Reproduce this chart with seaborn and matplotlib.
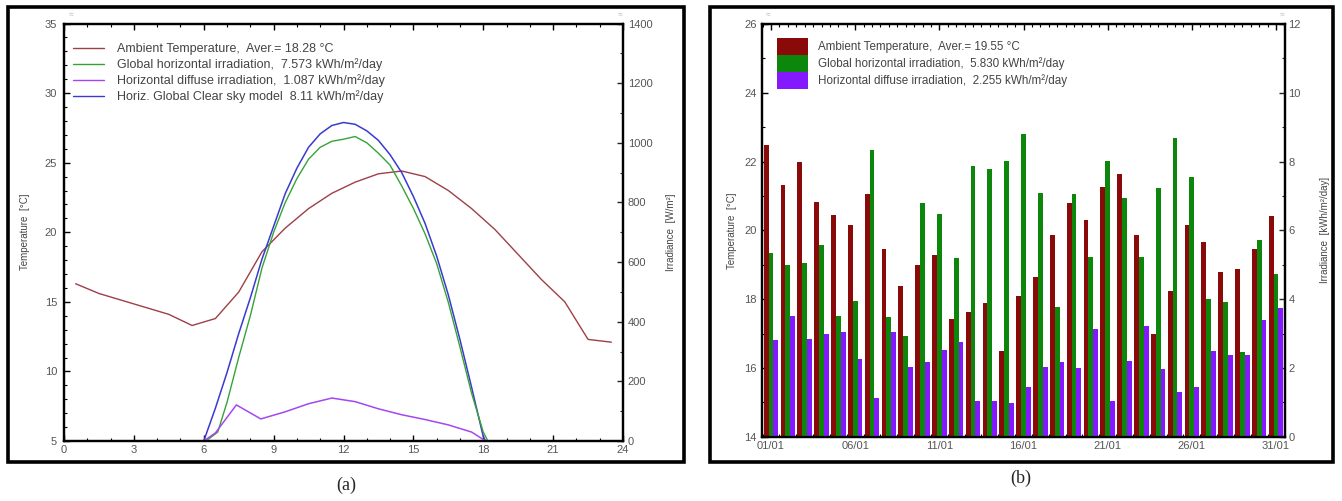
import numpy as np
import pandas as pd
import matplotlib
matplotlib.use("Agg")
import matplotlib.pyplot as plt
import seaborn as sns
from matplotlib.lines import Line2D
from matplotlib.patches import Patch, Rectangle
from matplotlib.ticker import MultipleLocator

# ---------------- data : panel (a) hourly profile ----------------
temp_hours = [0.5, 1.5, 2.5, 3.5, 4.5, 5.5, 6.5, 7.5, 8.5, 9.5, 10.5, 11.5,
              12.5, 13.5, 14.5, 15.5, 16.5, 17.5, 18.5, 19.5, 20.5, 21.5, 22.5, 23.5]
temp_values = [16.3, 15.6, 15.1, 14.6, 14.1, 13.3, 13.8, 15.7, 18.6, 20.3, 21.7, 22.8,
               23.6, 24.2, 24.4, 24.0, 23.0, 21.7, 20.2, 18.4, 16.6, 15.0, 12.3, 12.1]

clear_hours = [0, 6.0, 6.5, 7.0, 7.5, 8.0, 8.5, 9.0, 9.5, 10.0, 10.5, 11.0, 11.5, 12.0,
               12.5, 13.0, 13.5, 14.0, 14.5, 15.0, 15.5, 16.0, 16.5, 17.0, 17.5, 18.0, 18.1, 24]
clear_values = [0, 0, 110, 230, 360, 480, 610, 720, 830, 915, 985, 1030, 1058, 1068,
                1062, 1040, 1008, 960, 900, 820, 730, 620, 490, 340, 180, 15, 0, 0]

global_hours = [0, 6.1, 6.6, 7.0, 7.5, 8.0, 8.5, 9.0, 9.5, 10.0, 10.5, 11.0, 11.5, 12.0,
                12.5, 13.0, 13.5, 14.0, 14.5, 15.0, 15.5, 16.0, 16.5, 17.0, 17.5, 18.0, 18.2, 24]
global_values = [0, 0, 30, 130, 280, 420, 580, 700, 800, 880, 945, 985, 1005, 1012,
                 1021, 1000, 965, 925, 855, 780, 695, 595, 465, 315, 160, 30, 0, 0]

diffuse_hours = [0, 6.0, 6.5, 7.4, 8.45, 9.5, 10.5, 11.5, 12.5, 13.5, 14.5, 15.5, 16.5, 17.5, 18.1, 24]
diffuse_values = [0, 0, 27, 121, 74, 98, 125, 144, 132, 108, 88, 72, 54, 30, 0, 0]

labels_a = ["Ambient Temperature,  Aver.= 18.28 °C",
            "Global horizontal irradiation,  7.573 kWh/m²/day",
            "Horizontal diffuse irradiation,  1.087 kWh/m²/day",
            "Horiz. Global Clear sky model  8.11 kWh/m²/day"]
xticks_a = [0, 3, 6, 9, 12, 15, 18, 21, 24]

# ---------------- data : panel (b) daily values ----------------
day_labels = ["01/01", "02/01", "03/01", "04/01", "05/01", "06/01", "07/01", "08/01",
              "09/01", "10/01", "11/01", "12/01", "13/01", "14/01", "15/01", "16/01",
              "17/01", "18/01", "19/01", "20/01", "21/01", "22/01", "23/01", "24/01",
              "25/01", "26/01", "27/01", "28/01", "29/01", "30/01", "31/01"]
temp_daily = [22.49, 21.32, 22.00, 20.83, 20.46, 20.17, 21.05, 19.46, 18.38, 18.99, 19.29,
              17.43, 17.64, 17.90, 16.50, 18.09, 18.63, 19.87, 20.80, 20.31, 21.26, 21.64,
              19.87, 16.99, 18.24, 20.15, 19.66, 18.78, 18.87, 19.46, 20.41]
global_daily = [5.34, 4.99, 5.04, 5.58, 3.50, 3.96, 8.35, 3.48, 2.94, 6.80, 6.48, 5.19,
                7.86, 7.78, 8.03, 8.81, 7.10, 3.77, 7.05, 5.22, 8.01, 6.93, 5.22, 7.22,
                8.69, 7.54, 4.01, 3.92, 2.45, 5.73, 4.72]
diffuse_daily = [2.81, 3.50, 2.84, 2.98, 3.03, 2.27, 1.13, 3.05, 2.03, 2.18, 2.53, 2.74,
                 1.03, 1.03, 0.98, 1.45, 2.04, 2.17, 2.01, 3.13, 1.03, 2.20, 3.23, 1.98,
                 1.29, 1.45, 2.50, 2.37, 2.38, 3.38, 3.74]
series_b = ["Ambient Temperature,  Aver.= 19.55 °C",
            "Global horizontal irradiation,  5.830 kWh/m²/day",
            "Horizontal diffuse irradiation,  2.255 kWh/m²/day"]
xtick_days_b = ["01/01", "06/01", "11/01", "16/01", "21/01", "26/01", "31/01"]

# ---------------- style ----------------
sns.set_style("white")
plt.rcParams["font.family"] = ["Liberation Sans", "DejaVu Sans"]
plt.rcParams["axes.linewidth"] = 1.6
plt.rcParams["axes.edgecolor"] = "black"

c_temp, c_glob, c_diff, c_clear = "#9e3f48", "#36a336", "#a447ee", "#3a3ad0"
pal_b = {series_b[0]: "#8a0a0a", series_b[1]: "#0c870c", series_b[2]: "#8418ff"}
tick_col = "#555555"
txt_col = "#444444"

W, H = 1342, 501
fig = plt.figure(figsize=(W / 100, H / 100), dpi=100)


def style_axis(ax, left_pad, fs=8):
    ax.tick_params(axis="both", which="major", direction="in", length=4.5, width=1,
                   labelsize=fs, labelcolor=tick_col, color="black")
    ax.tick_params(axis="both", which="minor", direction="in", length=2.5, width=0.8,
                   color="black")
    ax.tick_params(axis="y", which="both", left=True, right=False, pad=left_pad)
    ax.tick_params(axis="x", which="both", bottom=True, top=True, pad=3)


# ================= panel (a) =================
axA = fig.add_axes([64 / W, 1 - 441 / H, (623 - 64) / W, (441 - 23.5) / H])
axA2 = axA.twinx()
sns.lineplot(x=temp_hours, y=temp_values, ax=axA, color=c_temp, lw=1.0)
sns.lineplot(x=clear_hours, y=clear_values, ax=axA2, color=c_clear, lw=1.1)
sns.lineplot(x=global_hours, y=global_values, ax=axA2, color=c_glob, lw=1.0)
sns.lineplot(x=diffuse_hours, y=diffuse_values, ax=axA2, color=c_diff, lw=1.1)

axA.set_xlim(0, 24)
axA.set_ylim(5, 35)
axA2.set_ylim(0, 1400)
axA.set_xticks(xticks_a)
axA.xaxis.set_minor_locator(MultipleLocator(1))
axA.yaxis.set_major_locator(MultipleLocator(5))
axA.yaxis.set_minor_locator(MultipleLocator(1))
axA2.yaxis.set_major_locator(MultipleLocator(200))
axA2.yaxis.set_minor_locator(MultipleLocator(100))
style_axis(axA, 5)
axA2.tick_params(axis="y", which="major", direction="in", length=4.5, width=1,
                 labelsize=8, labelcolor=tick_col, right=True, pad=3.5)
axA2.tick_params(axis="y", which="minor", direction="in", length=2.5, width=0.8, right=True)
axA.set_xlabel("")
axA.set_ylabel("Temperature  [°C]", fontsize=7, color=txt_col)
axA2.set_ylabel("Irradiance  [W/m²]", fontsize=7, color=txt_col)
axA.yaxis.set_label_coords(-0.061, 0.5)
axA2.yaxis.set_label_coords(1.077, 0.5)

handles_a = [Line2D([], [], color=c, lw=1.0) for c in (c_temp, c_glob, c_diff, c_clear)]
axA2.legend(handles_a, labels_a, loc="upper left", bbox_to_anchor=(0.016, 0.953),
            frameon=False, fontsize=9.0, handlelength=2.5, handletextpad=1.05,
            labelspacing=0.26, borderpad=0, borderaxespad=0, labelcolor=txt_col)

# ================= panel (b) =================
axB = fig.add_axes([762 / W, 1 - 436.7 / H, (1285 - 762) / W, (436.7 - 24) / H])
axB2 = axB.twinx()

df_t = pd.DataFrame({"day": day_labels, "value": temp_daily, "series": series_b[0]})
df_i = pd.concat([
    pd.DataFrame({"day": day_labels, "value": global_daily, "series": series_b[1]}),
    pd.DataFrame({"day": day_labels, "value": diffuse_daily, "series": series_b[2]}),
])
sns.barplot(data=df_t, x="day", y="value", hue="series", hue_order=series_b,
            order=day_labels, palette=pal_b, saturation=1, width=0.86, linewidth=0,
            dodge=True, errorbar=None, legend=False, ax=axB)
sns.barplot(data=df_i, x="day", y="value", hue="series", hue_order=series_b,
            order=day_labels, palette=pal_b, saturation=1, width=0.86, linewidth=0,
            dodge=True, errorbar=None, legend=False, ax=axB2)

axB.set_ylim(14, 26)
axB2.set_ylim(0, 12)
axB.yaxis.set_major_locator(MultipleLocator(2))
axB.yaxis.set_minor_locator(MultipleLocator(1))
axB2.yaxis.set_major_locator(MultipleLocator(2))
axB2.yaxis.set_minor_locator(MultipleLocator(1))
style_axis(axB, 4)
axB2.tick_params(axis="y", which="major", direction="in", length=4.5, width=1,
                 labelsize=8, labelcolor=tick_col, right=True, pad=2.5)
axB2.tick_params(axis="y", which="minor", direction="in", length=2.5, width=0.8, right=True)
axB.set_xlabel("")
axB2.set_xlabel("")
axB.set_ylabel("Temperature  [°C]", fontsize=7, color=txt_col)
axB2.set_ylabel("Irradiance  [kWh/m²/day]", fontsize=7, color=txt_col)
axB.yaxis.set_label_coords(-0.048, 0.5)
axB2.yaxis.set_label_coords(1.067, 0.5)

tick_pos = [day_labels.index(d) for d in xtick_days_b]
axB.set_xticks(tick_pos)
axB.set_xticklabels(xtick_days_b)
axB.xaxis.set_minor_locator(MultipleLocator(0.5))
axB.set_xlim(-0.535, len(day_labels) - 1 + 0.535)

handles_b = [Patch(facecolor=pal_b[s], edgecolor="none") for s in series_b]
axB2.legend(handles_b, series_b, loc="upper left", bbox_to_anchor=(0.0287, 0.966),
            frameon=False, fontsize=8.4, handlelength=2.65, handleheight=1.85,
            handletextpad=0.85, labelspacing=0.0, borderpad=0, borderaxespad=0,
            labelcolor=txt_col)

# ---------------- panel frames, captions, corner marks ----------------
for x0, x1 in ((8, 684), (710, 1333)):
    fig.add_artist(Rectangle((x0 / W, 1 - 462 / H), (x1 - x0) / W, (462 - 7) / H,
                             transform=fig.transFigure, fill=False, lw=2.6, ec="black"))
fig.text(346 / W, 1 - 485 / H, "(a)", ha="center", va="center", fontsize=13,
         family=["Liberation Serif", "DejaVu Serif"])
fig.text(1021 / W, 1 - 478 / H, "(b)", ha="center", va="center", fontsize=13,
         family=["Liberation Serif", "DejaVu Serif"])
for xm in (71, 620, 768, 1282):
    fig.text(xm / W, 1 - 15 / H, "≈", ha="center", va="center", fontsize=6, color="#bbbbbb")

fig.savefig("out.png", dpi=100, facecolor="white")
